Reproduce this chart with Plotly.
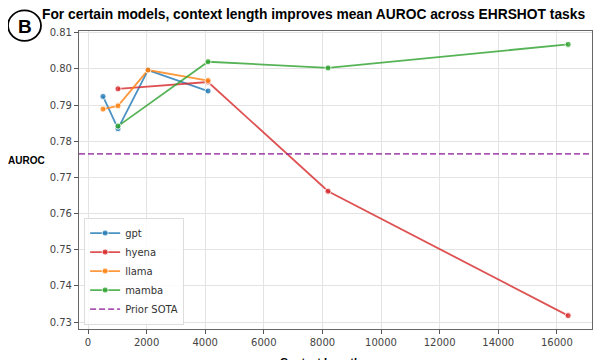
import plotly.graph_objects as go

# ---- data ----
gpt_x = [512, 1024, 2048, 4096]
gpt_y = [0.7924, 0.7835, 0.7997, 0.7939]
hyena_x = [1024, 4096, 8192, 16384]
hyena_y = [0.7945, 0.7964, 0.7662, 0.7318]
llama_x = [512, 1024, 2048, 4096]
llama_y = [0.7889, 0.7898, 0.7997, 0.7968]
mamba_x = [1024, 4096, 8192, 16384]
mamba_y = [0.7842, 0.8020, 0.8003, 0.8068]
prior_sota = 0.7765

x_ticks = [0, 2000, 4000, 6000, 8000, 10000, 12000, 14000, 16000]
x_tick_labels = [str(v) for v in x_ticks]
y_ticks = [0.73, 0.74, 0.75, 0.76, 0.77, 0.78, 0.79, 0.80, 0.81]

colors = {
    "gpt": "rgba(31,119,180,0.8)",
    "hyena": "rgba(214,39,40,0.8)",
    "llama": "rgba(255,127,14,0.8)",
    "mamba": "rgba(44,160,44,0.8)",
}

fig = go.Figure()
for name, xs, ys in [("gpt", gpt_x, gpt_y), ("hyena", hyena_x, hyena_y),
                     ("llama", llama_x, llama_y), ("mamba", mamba_x, mamba_y)]:
    fig.add_trace(go.Scatter(
        x=xs, y=ys, name=name, mode="lines+markers",
        line=dict(color=colors[name], width=1.8),
        marker=dict(color=colors[name], size=6, line=dict(color="white", width=0.8)),
    ))

fig.add_shape(type="line", xref="paper", x0=0, x1=1, yref="y", y0=prior_sota, y1=prior_sota,
              line=dict(color="rgba(140,30,150,0.75)", width=1.8, dash="6px,3px"),
              showlegend=True, name="Prior SOTA", layer="above")

font_ticks = dict(family="DejaVu Sans", size=10, color="#444")
fig.update_layout(
    width=603, height=352,
    margin=dict(l=71, r=19, t=23, b=25),
    paper_bgcolor="white", plot_bgcolor="white",
    showlegend=True,
    legend=dict(x=0.01, y=0.015, xanchor="left", yanchor="bottom",
                bgcolor="rgba(255,255,255,0.85)", bordercolor="#ddd", borderwidth=1,
                font=dict(family="DejaVu Sans", size=10, color="#333"),
                tracegroupgap=0, itemwidth=30),
    xaxis=dict(range=[-307, 17200], tickvals=x_ticks, ticktext=x_tick_labels, tickfont=font_ticks,
               showgrid=True, gridcolor="#e3e3e3", gridwidth=1,
               showline=True, linecolor="#666", linewidth=1.2, mirror=True,
               ticks="outside", ticklen=4, tickcolor="#555", zeroline=False),
    yaxis=dict(range=[0.7281, 0.8105], tickvals=y_ticks, tickformat=".2f", tickfont=font_ticks,
               showgrid=True, gridcolor="#e3e3e3", gridwidth=1,
               showline=True, linecolor="#666", linewidth=1.2, mirror=True,
               ticks="outside", ticklen=4, tickcolor="#555", zeroline=False),
)

# title
fig.add_annotation(text="<b>For certain models, context length improves mean AUROC across EHRSHOT tasks</b>",
                   xref="paper", yref="paper", x=(40 - 79) / 513, y=1.056, xanchor="left", yanchor="middle",
                   showarrow=False, font=dict(family="Liberation Sans", size=13.8, color="black"))

# panel label
fig.add_shape(type="circle", xref="paper", yref="paper",
              x0=(8 - 79) / 513, x1=(41 - 79) / 513, y0=(335 - 41) / 304, y1=(335 - 10) / 304,
              line=dict(color="black", width=1.8))
fig.add_annotation(text="<b>B</b>", xref="paper", yref="paper", x=(24.5 - 79) / 513, y=(335 - 26) / 304,
                   xanchor="center", yanchor="middle", showarrow=False,
                   font=dict(family="Liberation Sans", size=19, color="black"))

# axis titles
fig.add_annotation(text="<b>AUROC</b>", xref="paper", yref="paper", x=(26 - 79) / 513, y=(335 - 163) / 304,
                   xanchor="center", yanchor="middle", showarrow=False,
                   font=dict(family="Liberation Sans", size=10, color="black"))
fig.add_annotation(text="<b>Context Length</b>", xref="paper", yref="paper", x=0.47, y=(335 - 360) / 304,
                   xanchor="center", yanchor="top", showarrow=False,
                   font=dict(family="Liberation Sans", size=11, color="black"))

fig.write_html("out.html")
